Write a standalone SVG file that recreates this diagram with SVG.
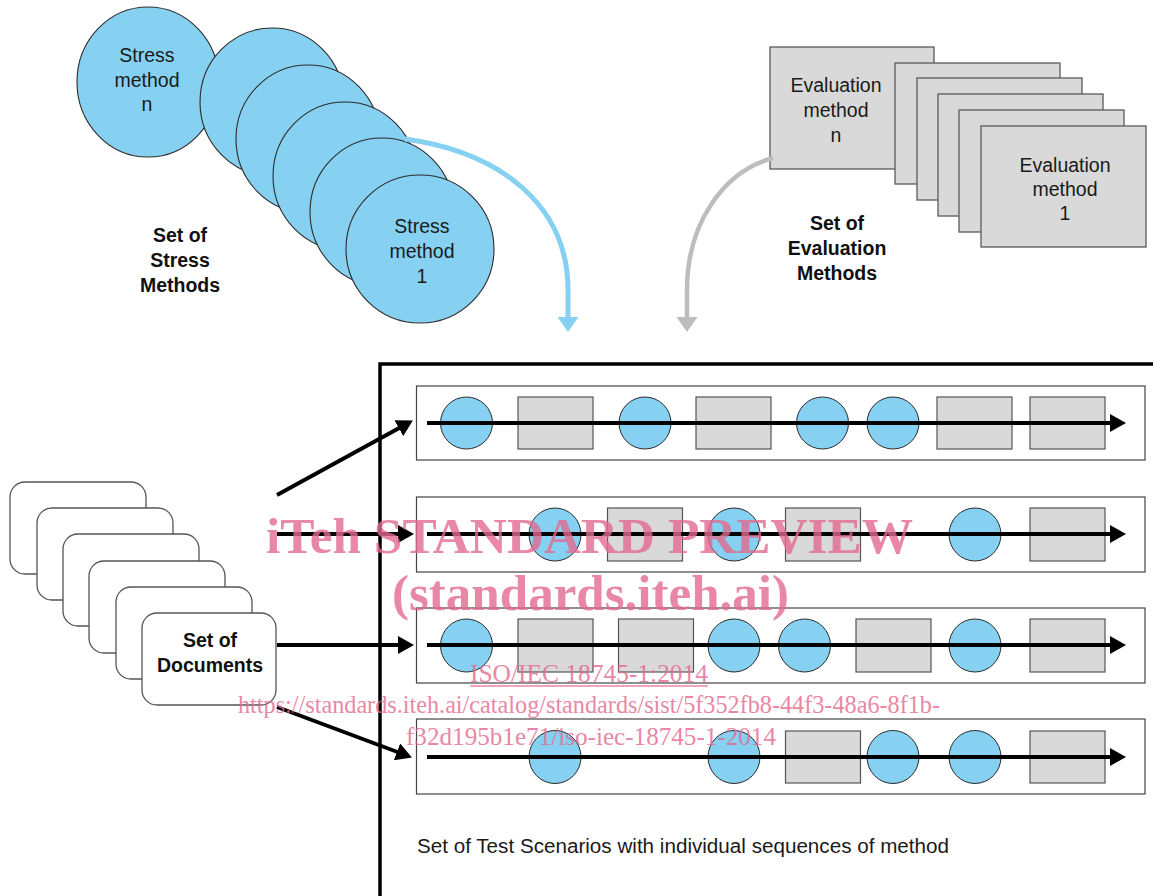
<svg xmlns="http://www.w3.org/2000/svg" width="1153" height="896" viewBox="0 0 1153 896">
<style>
.bg{fill:#ffffff}
.stress{fill:#86D1F1;stroke:#2b2b2b;stroke-width:1.1}
.evalr{fill:#D9D9D9;stroke:#5a5a5a;stroke-width:1.3}
.doc{fill:#ffffff;stroke:#555555;stroke-width:1.3}
.row{fill:#ffffff;stroke:#444444;stroke-width:1.2}
.rc{fill:#86D1F1;stroke:#2b2b2b;stroke-width:1}
.rr{fill:#D9D9D9;stroke:#555555;stroke-width:1.2}
.t{font-family:"Liberation Sans",Arial,sans-serif;font-size:19.5px;fill:#1a1a1a;text-anchor:middle}
.tb{font-family:"Liberation Sans",Arial,sans-serif;font-size:19.5px;font-weight:bold;fill:#111;text-anchor:middle}
.blk{stroke:#000;stroke-width:4;fill:none}
.wm{font-family:"Liberation Serif","Times New Roman",serif;fill:#E46A90;opacity:0.8;text-anchor:middle}
</style>
<defs>
<marker id="ah" markerUnits="userSpaceOnUse" markerWidth="16" markerHeight="18" refX="2" refY="9" orient="auto" viewBox="0 0 16 18">
<path d="M0,0 L16,9 L0,18 z" fill="#000"/>
</marker>
<marker id="ahBlue" markerUnits="userSpaceOnUse" markerWidth="15" markerHeight="21" refX="1" refY="10.5" orient="auto" viewBox="0 0 15 21">
<path d="M0,0 L15,10.5 L0,21 z" fill="#86D1F1"/>
</marker>
<marker id="ahGray" markerUnits="userSpaceOnUse" markerWidth="15" markerHeight="21" refX="1" refY="10.5" orient="auto" viewBox="0 0 15 21">
<path d="M0,0 L15,10.5 L0,21 z" fill="#BDBDBD"/>
</marker>
</defs>
<rect class="bg" x="0" y="0" width="1153" height="896"/>

<g id="stress-methods">
<ellipse class="stress" cx="148" cy="82" rx="71" ry="75"/>
<ellipse class="stress" cx="272" cy="102" rx="72" ry="74"/>
<ellipse class="stress" cx="308" cy="139" rx="72" ry="74"/>
<ellipse class="stress" cx="345" cy="176" rx="72" ry="74"/>
<ellipse class="stress" cx="382" cy="212" rx="72" ry="74"/>
<ellipse class="stress" cx="420" cy="249" rx="74" ry="74"/>
<text class="t" x="147" y="62">Stress</text>
<text class="t" x="147" y="87">method</text>
<text class="t" x="147" y="111">n</text>
<text class="t" x="422" y="233">Stress</text>
<text class="t" x="422" y="258">method</text>
<text class="t" x="422" y="283">1</text>
</g>
<g id="stress-label">
<text class="tb" x="180" y="242">Set of</text>
<text class="tb" x="180" y="267">Stress</text>
<text class="tb" x="180" y="292">Methods</text>
</g>

<g id="evaluation-methods">
<rect class="evalr" x="770" y="47" width="164" height="122"/>
<rect class="evalr" x="895" y="63" width="165" height="121"/>
<rect class="evalr" x="917" y="78" width="165" height="122"/>
<rect class="evalr" x="938" y="94" width="165" height="122"/>
<rect class="evalr" x="959" y="110" width="165" height="122"/>
<rect class="evalr" x="981" y="126" width="165" height="121"/>
<text class="t" x="836" y="92">Evaluation</text>
<text class="t" x="836" y="117">method</text>
<text class="t" x="836" y="142">n</text>
<text class="t" x="1065" y="172">Evaluation</text>
<text class="t" x="1065" y="196">method</text>
<text class="t" x="1065" y="220">1</text>
</g>
<g id="evaluation-label">
<text class="tb" x="837" y="230">Set of</text>
<text class="tb" x="837" y="255">Evaluation</text>
<text class="tb" x="837" y="280">Methods</text>
</g>

<g id="documents">
<rect class="doc" x="10" y="482" width="136" height="92" rx="15"/>
<rect class="doc" x="37" y="508" width="136" height="92" rx="15"/>
<rect class="doc" x="63" y="534" width="136" height="92" rx="15"/>
<rect class="doc" x="89" y="561" width="136" height="92" rx="15"/>
<rect class="doc" x="116" y="587" width="136" height="92" rx="15"/>
<rect class="doc" x="142" y="613" width="134" height="92" rx="15"/>
<text class="tb" x="210" y="647">Set of</text>
<text class="tb" x="210" y="672">Documents</text>
</g>

<g id="scenario-frame">
<path d="M380,896 V364 H1153" fill="none" stroke="#000" stroke-width="3.5"/>
<text font-family="Liberation Sans,Arial,sans-serif" font-size="19.5" fill="#1a1a1a" x="417" y="853" textLength="532" lengthAdjust="spacingAndGlyphs">Set of Test Scenarios with individual sequences of method</text>
</g>

<g id="scenario-1">
<rect class="row" x="416.5" y="386" width="728.5" height="74"/>
<ellipse class="rc" cx="466.5" cy="423" rx="26" ry="26"/>
<rect class="rr" x="518" y="397" width="75" height="52"/>
<ellipse class="rc" cx="645" cy="423" rx="26" ry="26"/>
<rect class="rr" x="696" y="397" width="75" height="52"/>
<ellipse class="rc" cx="822.5" cy="423" rx="26" ry="26"/>
<ellipse class="rc" cx="893" cy="423" rx="26" ry="26"/>
<rect class="rr" x="937" y="397" width="75" height="52"/>
<rect class="rr" x="1030" y="397" width="75" height="52"/>
</g>
<g id="scenario-2">
<rect class="row" x="416.5" y="497" width="728.5" height="75"/>
<ellipse class="rc" cx="555" cy="534.5" rx="26" ry="26.5"/>
<rect class="rr" x="607.5" y="508" width="75" height="53"/>
<ellipse class="rc" cx="734" cy="534.5" rx="26" ry="26.5"/>
<rect class="rr" x="785.5" y="508" width="75" height="53"/>
<ellipse class="rc" cx="975" cy="534.5" rx="26" ry="26.5"/>
<rect class="rr" x="1030" y="508" width="75" height="53"/>
</g>
<g id="scenario-3">
<rect class="row" x="416.5" y="608" width="728.5" height="75"/>
<ellipse class="rc" cx="466.5" cy="645.5" rx="26" ry="26.5"/>
<rect class="rr" x="518" y="619" width="75" height="53"/>
<rect class="rr" x="618.5" y="619" width="75" height="53"/>
<ellipse class="rc" cx="734" cy="645.5" rx="26" ry="26.5"/>
<ellipse class="rc" cx="804.5" cy="645.5" rx="26" ry="26.5"/>
<rect class="rr" x="856" y="619" width="75" height="53"/>
<ellipse class="rc" cx="975" cy="645.5" rx="26" ry="26.5"/>
<rect class="rr" x="1030" y="619" width="75" height="53"/>
</g>
<g id="scenario-4">
<rect class="row" x="416.5" y="719" width="728.5" height="75"/>
<ellipse class="rc" cx="555" cy="757" rx="26" ry="26.5"/>
<ellipse class="rc" cx="734" cy="757" rx="26" ry="26.5"/>
<rect class="rr" x="785.5" y="731" width="75" height="52"/>
<ellipse class="rc" cx="893" cy="757" rx="26" ry="26.5"/>
<ellipse class="rc" cx="975" cy="757" rx="26" ry="26.5"/>
<rect class="rr" x="1030" y="731" width="75" height="52"/>
</g>

<g id="connectors">
<path d="M405,139 C500,152 568,205 568,290 L568,318" fill="none" stroke="#86D1F1" stroke-width="5" marker-end="url(#ahBlue)"/>
<path d="M773,158 C722,172 687,225 687,290 L687,318" fill="none" stroke="#BDBDBD" stroke-width="4.5" marker-end="url(#ahGray)"/>
<line class="blk" x1="277" y1="495" x2="400.6" y2="427.3" marker-end="url(#ah)"/>
<line class="blk" x1="277" y1="534" x2="400" y2="534" marker-end="url(#ah)"/>
<line class="blk" x1="277" y1="645" x2="400" y2="645" marker-end="url(#ah)"/>
<line class="blk" x1="277" y1="707" x2="398.8" y2="752.5" marker-end="url(#ah)"/>
<line class="blk" x1="427" y1="423" x2="1112" y2="423" marker-end="url(#ah)"/>
<line class="blk" x1="427" y1="534" x2="1112" y2="534" marker-end="url(#ah)"/>
<line class="blk" x1="427" y1="645" x2="1112" y2="645" marker-end="url(#ah)"/>
<line class="blk" x1="427" y1="757" x2="1112" y2="757" marker-end="url(#ah)"/>
</g>

<g id="watermark">
<text class="wm" x="589.5" y="553" font-size="50" font-weight="bold" textLength="647" lengthAdjust="spacingAndGlyphs">iTeh STANDARD PREVIEW</text>
<text class="wm" x="590.5" y="610" font-size="50" font-weight="bold" textLength="397" lengthAdjust="spacingAndGlyphs">(standards.iteh.ai)</text>
<text class="wm" x="589" y="682" font-size="25" textLength="238" lengthAdjust="spacingAndGlyphs">ISO/IEC 18745-1:2014</text>
<line x1="470" y1="686" x2="708" y2="686" stroke="#E46A90" stroke-width="1.3" opacity="0.8"/>
<text class="wm" x="589" y="713" font-size="25" textLength="702" lengthAdjust="spacingAndGlyphs">https://standards.iteh.ai/catalog/standards/sist/5f352fb8-44f3-48a6-8f1b-</text>
<text class="wm" x="591" y="745" font-size="25" textLength="370" lengthAdjust="spacingAndGlyphs">f32d195b1e71/iso-iec-18745-1-2014</text>
</g>
</svg>
